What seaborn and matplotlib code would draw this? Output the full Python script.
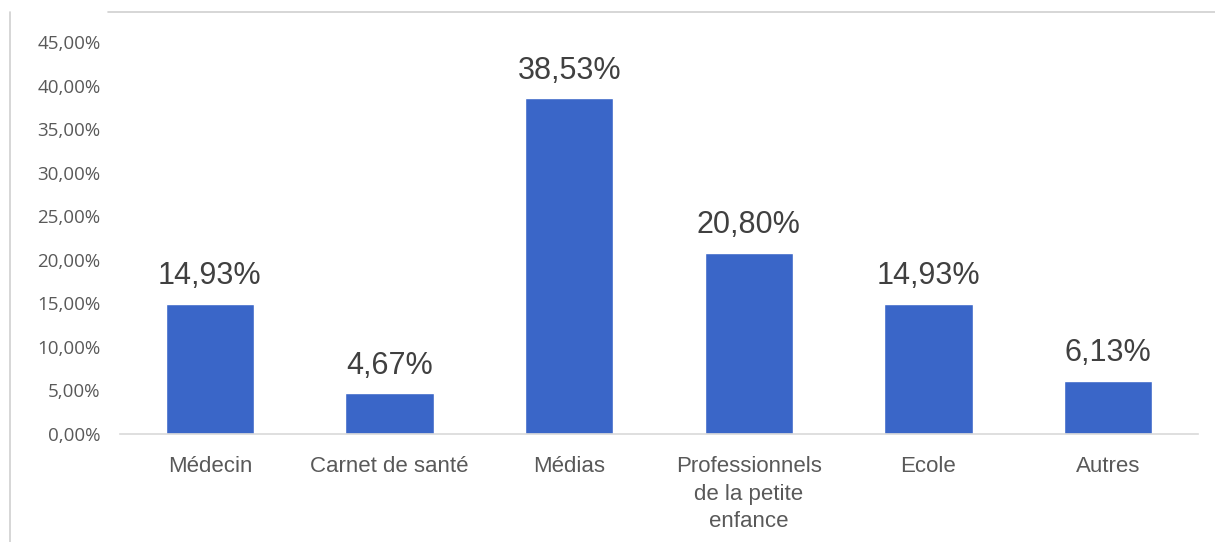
import matplotlib
matplotlib.use("Agg")
import matplotlib.pyplot as plt
from matplotlib.lines import Line2D
from matplotlib.ticker import FuncFormatter
import seaborn as sns
import pandas as pd

# Source of information, share of answers (%)
categories = ["Médecin", "Carnet de santé", "Médias",
              "Professionnels\nde la petite\nenfance", "Ecole", "Autres"]
values = [14.93, 4.67, 38.53, 20.80, 14.93, 6.13]
y_ticks = [0, 5, 10, 15, 20, 25, 30, 35, 40, 45]

df = pd.DataFrame({"categorie": categories, "pourcentage": values})

sns.set_theme(style="white")
plt.rcParams["font.family"] = ["Liberation Sans", "DejaVu Sans"]

fig = plt.figure(figsize=(12.15, 5.42), dpi=100)
ax = fig.add_axes([120 / 1215, 1 - 434 / 542, (1198 - 120) / 1215, (434 - 42) / 542])

sns.barplot(data=df, x="categorie", y="pourcentage", color="#3a66c8",
            saturation=1, width=0.49, ax=ax)

ax.set_ylim(0, 45)
ax.set_xlim(-0.5, len(categories) - 0.5)
ax.set_yticks(y_ticks)
ax.yaxis.set_major_formatter(FuncFormatter(lambda v, _: f"{v:.2f}%".replace(".", ",")))
ax.set_xlabel("")
ax.set_ylabel("")

for s in ["top", "right", "left"]:
    ax.spines[s].set_visible(False)
ax.spines["bottom"].set_color("#d9d9d9")
ax.spines["bottom"].set_linewidth(1.2)

ax.tick_params(axis="y", length=0, pad=14, labelsize=13.5, labelcolor="#595959")
ax.tick_params(axis="x", length=0, pad=16, labelsize=16, labelcolor="#595959")
for lab in ax.get_yticklabels():
    lab.set_fontfamily(["Open Sans", "DejaVu Sans"])
for lab in ax.get_xticklabels():
    lab.set_linespacing(1.4)

# value labels above bars
for cont in ax.containers:
    ax.bar_label(cont, labels=[f"{v:.2f}%".replace(".", ",") for v in values],
                 padding=9, fontsize=22, color="#404040")

# light frame around the chart area
fig.add_artist(Line2D([108 / 1215, 1], [1 - 12 / 542] * 2, color="#d0d0d0", lw=1.2,
                      transform=fig.transFigure))
fig.add_artist(Line2D([10 / 1215] * 2, [0, 1 - 12 / 542], color="#d0d0d0", lw=1.2,
                      transform=fig.transFigure))

fig.savefig("out.png", dpi=100)
